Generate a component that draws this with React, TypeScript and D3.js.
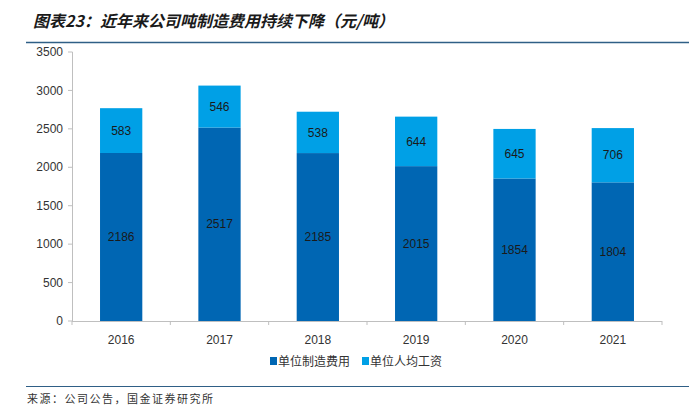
import React, { useEffect, useRef } from 'react';
import * as d3 from 'd3';

const years = ['2016', '2017', '2018', '2019', '2020', '2021'];
const manufacturing = [2186, 2517, 2185, 2015, 1854, 1804];
const labor = [583, 546, 538, 644, 645, 706];
const yTicks = [0, 500, 1000, 1500, 2000, 2500, 3000, 3500];
const seriesNames = ['单位制造费用', '单位人均工资'];
const colors = ['#0066b3', '#00a0e6'];

const W = 689;
const H = 411;
const font = 'Arial, "Liberation Sans", "Noto Sans CJK SC", sans-serif';

const App = () => {
  const ref = useRef<SVGSVGElement>(null);

  useEffect(() => {
    const svg = d3.select(ref.current);
    svg.selectAll('*').remove();

    // title
    svg
      .append('text')
      .attr('x', 33)
      .attr('y', 27)
      .attr('font-family', '"Noto Sans CJK SC", sans-serif')
      .attr('font-size', 16)
      .attr('font-weight', 'bold')
      .attr('font-style', 'italic')
      .attr('fill', '#1a1a1a')
      .text('图表23：近年来公司吨制造费用持续下降（元/吨）');
    svg.append('line').attr('x1', 26).attr('x2', W).attr('y1', 42.5).attr('y2', 42.5)
      .attr('stroke', '#2f5f86').attr('stroke-width', 1.5);

    const x = d3.scaleBand().domain(years).range([72, 662]).paddingInner(0.57).paddingOuter(0.285);
    const y = d3.scaleLinear().domain([0, 3500]).range([321, 52]);

    // y axis
    const ya = svg.append('g');
    ya.append('line').attr('x1', 72.5).attr('x2', 72.5).attr('y1', y(3500)).attr('y2', y(0))
      .attr('stroke', '#bfbfbf');
    yTicks.forEach((t) => {
      ya.append('line').attr('x1', 68).attr('x2', 72.5).attr('y1', y(t)).attr('y2', y(t))
        .attr('stroke', '#bfbfbf');
      ya.append('text').attr('x', 63).attr('y', y(t)).attr('dy', '0.35em')
        .attr('text-anchor', 'end').attr('font-family', font).attr('font-size', 12)
        .attr('fill', '#333').text(t);
    });

    // x axis
    const step = x.step();
    const xa = svg.append('g');
    xa.append('line').attr('x1', 72).attr('x2', 662).attr('y1', y(0) + 0.5).attr('y2', y(0) + 0.5)
      .attr('stroke', '#bfbfbf');
    d3.range(years.length + 1).forEach((i) => {
      const xx = 72 + i * step;
      xa.append('line').attr('x1', xx).attr('x2', xx).attr('y1', y(0)).attr('y2', y(0) + 4)
        .attr('stroke', '#bfbfbf');
    });
    years.forEach((yr) => {
      xa.append('text').attr('x', x(yr)! + x.bandwidth() / 2).attr('y', 340)
        .attr('dy', '0.35em').attr('text-anchor', 'middle').attr('font-family', font)
        .attr('font-size', 12).attr('fill', '#333').text(yr);
    });

    // stacked bars
    const rows = years.map((yr, i) => ({ year: yr, a: manufacturing[i], b: labor[i] }));
    const stack = d3.stack<any>().keys(['a', 'b'])(rows);
    stack.forEach((layer, li) => {
      const g = svg.append('g');
      layer.forEach((d) => {
        const yr = d.data.year as string;
        g.append('rect')
          .attr('x', x(yr)!)
          .attr('width', x.bandwidth())
          .attr('y', y(d[1]))
          .attr('height', y(d[0]) - y(d[1]))
          .attr('fill', colors[li]);
        g.append('text')
          .attr('x', x(yr)! + x.bandwidth() / 2)
          .attr('y', y((d[0] + d[1]) / 2))
          .attr('dy', '0.35em')
          .attr('text-anchor', 'middle')
          .attr('font-family', font)
          .attr('font-size', 12)
          .attr('fill', '#1a1a1a')
          .text(d[1] - d[0]);
      });
    });

    // legend
    const lg = svg.append('g');
    const lx = [270, 362];
    seriesNames.forEach((n, i) => {
      lg.append('rect').attr('x', lx[i]).attr('y', 357).attr('width', 7).attr('height', 8)
        .attr('fill', colors[i]);
      lg.append('text').attr('x', lx[i] + 8).attr('y', 361.5).attr('dy', '0.35em')
        .attr('font-family', '"Noto Sans CJK SC", sans-serif').attr('font-size', 12)
        .attr('fill', '#333').text(n);
    });

    // source
    svg.append('line').attr('x1', 26).attr('x2', W).attr('y1', 386.5).attr('y2', 386.5)
      .attr('stroke', '#2f5f86').attr('stroke-width', 1.2);
    svg.append('text').attr('x', 27).attr('y', 403)
      .attr('font-family', '"Noto Sans CJK SC", serif').attr('font-size', 11)
      .attr('letter-spacing', 1.5)
      .attr('fill', '#333').text('来源：公司公告，国金证券研究所');
  }, []);

  return (
    <div style={{ position: 'absolute', left: 0, top: 0, background: '#fff' }}>
      <svg ref={ref} width={W} height={H}></svg>
    </div>
  );
};

export default App;
